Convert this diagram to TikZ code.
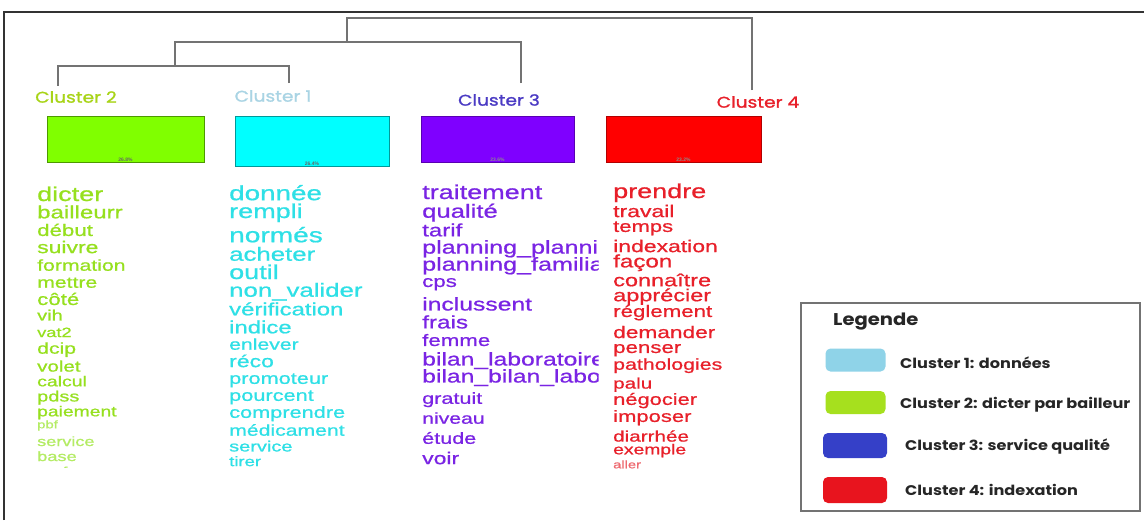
\documentclass[tikz,border=0pt]{standalone}
\usepackage{fontspec}
\newfontfamily\wf[FakeStretch=1.35,FakeBold=0.8]{Liberation Sans}
\newfontfamily\pcf{Liberation Sans}
\newfontfamily\pf[FakeStretch=1.2,FakeBold=1.2]{Poppins}
\newfontfamily\lf[FakeStretch=1.15]{Poppins}
\usetikzlibrary{calc}
\definecolor{gtext}{HTML}{96E01E}
\definecolor{gtextl}{HTML}{B4EC64}
\definecolor{ctext}{HTML}{2EE0E6}
\definecolor{ptext}{HTML}{7A24E4}
\definecolor{rtext}{HTML}{E8202A}
\definecolor{rtextl}{HTML}{EE6A70}
\definecolor{gbox}{HTML}{80FF00}
\definecolor{cbox}{HTML}{00FFFF}
\definecolor{pbox}{HTML}{7F00FF}
\definecolor{rbox}{HTML}{FF0000}
\definecolor{glab}{HTML}{A8D418}
\definecolor{clab}{HTML}{A9D4E4}
\definecolor{plab}{HTML}{4B3BC4}
\definecolor{rlab}{HTML}{E8202A}
\definecolor{lg1}{HTML}{8FD3E8}
\definecolor{lg2}{HTML}{A6E01E}
\definecolor{lg3}{HTML}{3540C8}
\definecolor{lg4}{HTML}{E8141E}
\tikzset{
  frameline/.style={draw=black!80, line width=1.5pt},
  dendro/.style={draw=black!55, line width=1.6pt},
  clab/.style={font=\pf\fontsize{15.5}{15.5}\selectfont, inner sep=0pt},
  cbx/.style={inner sep=0pt, line width=1pt, minimum width=155pt, minimum height=46pt},
  pct/.style={font=\pcf\bfseries\fontsize{5}{5}\selectfont, text=black!60, inner sep=1pt, anchor=south},
  word/.style={anchor=base west, inner sep=0pt},
  swatch/.style={rounded corners=5pt, minimum width=60pt, minimum height=23pt, inner sep=0pt},
  legtxt/.style={anchor=west, font=\lf\bfseries\fontsize{14}{14}\selectfont, text=black!85, inner sep=0pt},
}
\begin{document}
\begin{tikzpicture}[x=1pt,y=-1pt]
\useasboundingbox (0,0) rectangle (1144,520);
\fill[white] (0,0) rectangle (1144,520);
% frame
\draw[frameline] (4,520) -- (4,12) -- (1144,12);
% cluster labels
\node[clab, text=glab] (c2) at (76,97) {Cluster 2};
\node[clab, text=clab] (c1) at (273,96) {Cluster 1};
\node[clab, text=plab] (c3) at (499,100) {Cluster 3};
\node[clab, text=rlab] (c4) at (758,102) {Cluster 4};
% dendrogram
\coordinate (t1) at (347,18);
\coordinate (l4) at (752,90);
\coordinate (m1) at (175,42);
\coordinate (l3) at (521,83);
\coordinate (b1) at (58,66);
\coordinate (l2) at (58,86);
\coordinate (l1) at (289,83);
\draw[dendro] (l4) |- (t1) -- (t1 |- m1);
\draw[dendro] (l3) |- (m1) -- (m1 |- b1);
\draw[dendro] (l1) |- (b1) -- (l2);
% boxes
\node[cbx, fill=gbox, draw=gbox!60!black, minimum width=157pt] (bx2) at (125.5,139) {};
\node[cbx, fill=cbox, draw=cbox!60!black, minimum width=154pt, minimum height=50pt] (bx1) at (312,141) {};
\node[cbx, fill=pbox, draw=pbox!70!black, minimum width=153pt] (bx3) at (497.5,139) {};
\node[cbx, fill=rbox, draw=rbox!70!black, minimum width=155pt] (bx4) at (683.5,139) {};
\node[pct] (p2) at (bx2.south) {26.8\%};
\node[pct] (p1) at (bx1.south) {26.4\%};
\node[pct, text=black!45] (p3) at (bx3.south) {23.6\%};
\node[pct, text=black!45] (p4) at (bx4.south) {23.2\%};
% green words
\foreach \w/\y/\s/\c [count=\i] in {
 dicter/195/20/gtext, bailleurr/213/17.8/gtext, début/231/16.5/gtext,
 suivre/248/17/gtext, formation/266/15.7/gtext, mettre/283/15.7/gtext,
 côté/300/16.5/gtext, vih/316/14.8/gtext, vat2/333/13.5/gtext,
 dcip/349/15.7/gtext, volet/367/15.2/gtext, calcul/382/14.4/gtext,
 pdss/397/14.8/gtext, paiement/412/14.3/gtext, pbf/425/11/gtextl,
 service/442/13.4/gtextl, base/457/13.5/gtextl}
 \node[word, text=\c, font=\wf\fontsize{\s}{\s}\selectfont] (g\i) at (37,{\y+0.3*\s}) {\w};
\begin{scope}
\clip (30,455) rectangle (220,467);
\node[word, text=gtextl, font=\wf\fontsize{13}{13}\selectfont] (gperf) at (37,476) {performance};
\end{scope}
% cyan words
\foreach \w/\y/\s [count=\i] in {
 donnée/194/20.6, rempli/212/20, normés/236/20.8, acheter/255/19.1,
 outil/273/20, non\_valider/291/19.1, vérification/310/17.7,
 indice/328/17.7, enlever/345/15.7, réco/362/17, promoteur/379/16.1,
 pourcent/396/16.1, comprendre/413/16.1, médicament/431/15.7,
 service/447/14.8, tirer/462/13.7}
 \node[word, text=ctext, font=\wf\fontsize{\s}{\s}\selectfont] (cw\i) at (229,{\y+0.3*\s}) {\w};
% purple words
\begin{scope}
\clip (410,175) rectangle (598.5,480);
\foreach \w/\y/\s [count=\i] in {
 traitement/193/20, qualité/212/19, tarif/231/17.8,
 planning\_planning/248/18.6, planning\_familial/265/18.6, cps/282/16.5,
 inclussent/305/18.3, frais/323/18, femme/341/16.5,
 bilan\_laboratoire/360/18.3, bilan\_bilan\_laboratoire/377/18.3,
 gratuit/399/16, niveau/419/15.7, étude/439/16, voir/459/17}
 \node[word, text=ptext, font=\wf\fontsize{\s}{\s}\selectfont] (pw\i) at (422,{\y+0.3*\s}) {\w};
\end{scope}
% red words
\foreach \w/\y/\s/\c [count=\i] in {
 prendre/192/20/rtext, travail/212/17/rtext, temps/227/16.3/rtext,
 indexation/247/17/rtext, façon/262/17.9/rtext, connaître/281/17.4/rtext,
 apprécier/296/17.4/rtext, réglement/312/16.5/rtext, demander/333/16.8/rtext,
 penser/348/16.5/rtext, pathologies/365/15.8/rtext, palu/384/15.3/rtext,
 négocier/400/16.2/rtext, imposer/417/16.3/rtext, diarrhée/437/15.3/rtext,
 exemple/450/14.3/rtext, aller/465/10.9/rtextl}
 \node[word, text=\c, font=\wf\fontsize{\s}{\s}\selectfont] (rw\i) at (613,{\y+0.3*\s}) {\w};
% legend
\draw[draw=black!55, line width=1.3pt] (801,303) rectangle (1140,511);
\node[anchor=west, font=\lf\bfseries\fontsize{17}{17}\selectfont, text=black!85, inner sep=0pt] (legt) at (833,322) {Legende};
\node[swatch, fill=lg1] (s1) at (855.5,360) {};
\node[swatch, fill=lg2] (s2) at (855.5,402.5) {};
\node[swatch, fill=lg3, minimum width=64pt, minimum height=25pt] (s3) at (855,445.5) {};
\node[swatch, fill=lg4, minimum width=64pt, minimum height=26pt] (s4) at (855,490) {};
\node[legtxt] (t1l) at (900,363) {Cluster 1: données};
\node[legtxt] (t2l) at (900,405) {Cluster 2: dicter par bailleur};
\node[legtxt] (t3l) at (905,447) {Cluster 3: service qualité};
\node[legtxt] (t4l) at (905,490) {Cluster 4: indexation};
\end{tikzpicture}
\end{document}
